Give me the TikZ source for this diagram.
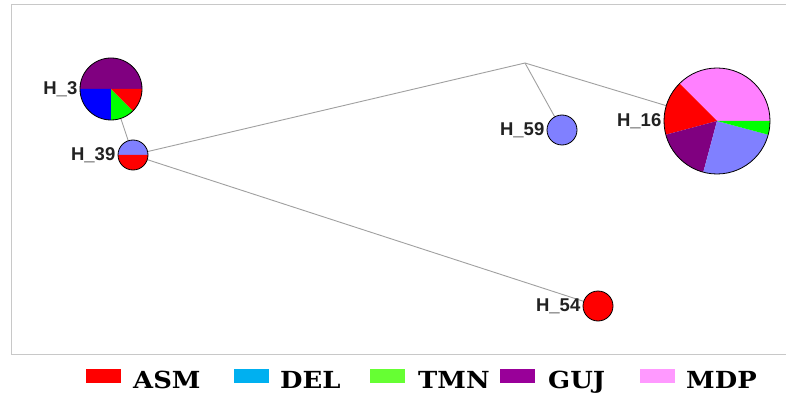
\documentclass[tikz,border=0pt]{standalone}
\usepackage{fontspec}
\setmainfont{Liberation Sans}
\newfontfamily\legendfont{DejaVu Serif}
\begin{document}
\begin{tikzpicture}[x=1pt,y=1pt]
% pie colours
\definecolor{pieRed}{HTML}{FF0000}
\definecolor{pieBlue}{HTML}{0000FF}
\definecolor{pieLight}{HTML}{8080FF}
\definecolor{pieGreen}{HTML}{00FF00}
\definecolor{piePurple}{HTML}{800080}
\definecolor{piePink}{HTML}{FF80FF}
% legend colours
\definecolor{legASM}{HTML}{FF0000}
\definecolor{legDEL}{HTML}{00B0F0}
\definecolor{legTMN}{HTML}{66FF33}
\definecolor{legGUJ}{HTML}{990099}
\definecolor{legMDP}{HTML}{FF99FF}
% lines and text
\definecolor{linkgray}{HTML}{A0A0A0}
\definecolor{framegray}{HTML}{C8C8C8}
\definecolor{labeltext}{HTML}{222222}
\tikzset{
  hap/.style={circle, minimum size=#1, inner sep=0pt, outer sep=0pt},
  hapring/.style={draw=black, line width=0.8pt},
  link/.style={draw=linkgray, line width=0.9pt},
  haplabel/.style={anchor=east, inner sep=1.5pt, text=labeltext,
    font=\fontsize{18.5}{18.5}\selectfont\bfseries},
  swatch/.style={minimum width=35pt, minimum height=14pt, inner sep=0pt},
  legendtext/.style={anchor=base west, inner sep=0pt, xscale=1.1,
    font=\legendfont\fontsize{23.5}{24}\selectfont\bfseries}
}
\newcommand\pieslice[5]{\fill[#5] (#1) -- ++(#2:#4) arc[start angle=#2, end angle=#3, radius=#4] -- cycle;}
\useasboundingbox (0,0) rectangle (786,394);
\fill[white] (0,0) rectangle (786,394);
% plot frame
\draw[framegray, line width=1pt] (786,389) -- (11,389) -- (11,40) -- (786,40);

% haplotype nodes
\node[hap=62pt] (h3) at (111,305) {};
\node[hap=30pt] (h39) at (133,239) {};
\node[hap=30pt] (h59) at (562,264) {};
\node[hap=106pt] (h16) at (717,273) {};
\node[hap=30pt] (h54) at (598,88) {};
\coordinate (j) at (525,331);

% network links
\draw[link] (h3) -- (h39);
\draw[link] (h39) -- (j);
\draw[link] (j) -- (h59);
\draw[link] (j) -- (h16);
\draw[link] (h39) -- (h54);

% H_3
\pieslice{h3.center}{0}{180}{31}{piePurple}
\pieslice{h3.center}{180}{270}{31}{pieBlue}
\pieslice{h3.center}{270}{315}{31}{pieGreen}
\pieslice{h3.center}{315}{360}{31}{pieRed}
\draw[hapring] (h3.center) circle[radius=31];
% H_39
\pieslice{h39.center}{0}{180}{15}{pieLight}
\pieslice{h39.center}{180}{360}{15}{pieRed}
\draw[hapring] (h39.center) circle[radius=15];
% H_59
\fill[pieLight] (h59.center) circle[radius=15];
\draw[hapring] (h59.center) circle[radius=15];
% H_16
\pieslice{h16.center}{0}{135}{53}{piePink}
\pieslice{h16.center}{135}{195}{53}{pieRed}
\pieslice{h16.center}{195}{255}{53}{piePurple}
\pieslice{h16.center}{255}{345}{53}{pieLight}
\pieslice{h16.center}{345}{360}{53}{pieGreen}
\draw[hapring] (h16.center) circle[radius=53];
% H_54
\fill[pieRed] (h54.center) circle[radius=15];
\draw[hapring] (h54.center) circle[radius=15];

% labels
\node[haplabel] (l3) at ([xshift=-1pt]h3.west) {H\_3};
\node[haplabel] (l39) at ([xshift=-1pt]h39.west) {H\_39};
\node[haplabel] (l59) at ([xshift=-1pt]h59.west) {H\_59};
\node[haplabel] (l16) at ([xshift=-1pt]h16.west) {H\_16};
\node[haplabel] (l54) at ([xshift=-1pt]h54.west) {H\_54};

% legend
\node[swatch, fill=legASM] (kASM) at (103,18) {};
\node[legendtext] (tASM) at (133,6) {ASM};
\node[swatch, fill=legDEL] (kDEL) at (251.5,18) {};
\node[legendtext] (tDEL) at (280,6) {DEL};
\node[swatch, fill=legTMN] (kTMN) at (387,18) {};
\node[legendtext] (tTMN) at (418,6) {TMN};
\node[swatch, fill=legGUJ] (kGUJ) at (517,18) {};
\node[legendtext] (tGUJ) at (548,6) {GUJ};
\node[swatch, fill=legMDP] (kMDP) at (657,18) {};
\node[legendtext] (tMDP) at (686,6) {MDP};
\end{tikzpicture}
\end{document}
